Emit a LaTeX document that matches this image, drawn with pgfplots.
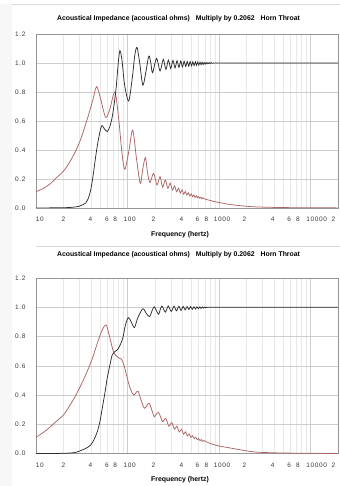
\documentclass[border=0pt]{standalone}
\usepackage{fontspec}
\setmainfont{Liberation Sans}
\newfontfamily\tickfont[LetterSpace=10]{Liberation Sans}
\usepackage{pgfplots}
\pgfplotsset{compat=1.18}

\definecolor{blk}{RGB}{45,45,45}
\definecolor{rd}{RGB}{172,100,100}
\definecolor{majg}{RGB}{205,205,205}
\definecolor{ming}{RGB}{232,232,232}
\definecolor{frm}{RGB}{150,150,150}

\begin{document}
\begin{tikzpicture}
\useasboundingbox (0,0) rectangle (340bp,486bp);
\fill[gray!6] (0,0) rectangle (12bp,482bp);
\draw[gray!30, line width=0.6bp] (12bp,482bp) -- (340bp,482bp);
\draw[gray!30, line width=0.6bp] (36bp,239.3bp) -- (340bp,239.3bp);

\node[font=\bfseries\fontsize{6.9}{7}\selectfont] at (178.5bp,467.7bp)
  {Acoustical Impedance (acoustical ohms)\hspace{4bp} Multiply by 0.2062\hspace{4bp} Horn Throat};
\node[font=\bfseries\fontsize{6.9}{7}\selectfont] at (180bp,251bp) {Frequency (hertz)};
\node[font=\bfseries\fontsize{6.9}{7}\selectfont] at (178.5bp,231bp)
  {Acoustical Impedance (acoustical ohms)\hspace{4bp} Multiply by 0.2062\hspace{4bp} Horn Throat};
\node[font=\bfseries\fontsize{6.9}{7}\selectfont] at (180bp,6bp) {Frequency (hertz)};

% ---------- top chart ----------
\begin{axis}[
  xmode=log,
  scale only axis, width=302bp, height=174bp,
  at={(36bp,278bp)}, anchor=south west,
  xmin=10, xmax=20000, ymin=0, ymax=1.2,
  xtick={10,100,1000,10000}, xticklabels={\empty,\empty,\empty,\empty},
  minor xtick={20,30,40,50,60,70,80,90,200,300,400,500,600,700,800,900,2000,3000,4000,5000,6000,7000,8000,9000},
  extra x ticks={10.97,20,39.3,59.5,73.4,105.9,191.8,389,581,728,1083,1900,3865,5866,7280,11700,17780},
  extra x tick labels={10,2,4,6,8,100,2,4,6,8,1000,2,4,6,8,10000,2},
  extra x tick style={xmajorgrids=false},
  ytick={0,0.2,0.4,0.6,0.8,1.0,1.2},
  yticklabels={0.0,0.2,0.4,0.6,0.8,1.0,1.2},
  xmajorgrids, xminorgrids, ymajorgrids,
  major grid style={draw=majg, line width=0.5bp},
  minor grid style={draw=ming, line width=0.5bp},
  axis line style={draw=frm, line width=0.6bp},
  major tick length=0pt, minor tick length=0pt,
  ticklabel style={font=\tickfont\fontsize{6.5}{7}\selectfont, text=black!78},
  xticklabel style={yshift=-5.7bp},
  yticklabel style={xshift=-7bp},
]
\addplot[rd, line width=0.75bp, smooth] coordinates {
(10,0.112) (12,0.135) (14.5,0.17) (16.5,0.205) (20,0.255) (23,0.31) (26,0.37)
(29.6,0.446) (33,0.53) (38,0.653) (42,0.75) (46,0.837) (51,0.75) (57.7,0.625)
(64,0.68) (72.8,0.80) (80,0.62) (87,0.38) (93.6,0.267) (104,0.40) (114,0.538)
(126,0.33) (138,0.17) (147,0.27) (157,0.347) (166,0.24) (176,0.175) (193,0.239)
(210,0.159) (227,0.216) (242,0.143) (259,0.193) (276,0.136) (293,0.171) (310,0.123)
(327,0.153) (344,0.112) (361,0.137) (378,0.103) (395,0.125) (412,0.095) (429,0.114)
(446,0.089) (463,0.105) (480,0.083) (497,0.097) (514,0.078) (531,0.090) (548,0.073)
(565,0.084) (582,0.070) (599,0.079) (616,0.067) (633,0.074) (650,0.064) (667,0.070)
(700,0.062) (800,0.052) (900,0.044) (1000,0.038) (1300,0.025) (1700,0.016)
(2300,0.009) (3000,0.006) (5000,0.003) (10000,0.0015) (20000,0.0008)
};
\addplot[blk, line width=0.75bp, smooth] coordinates {
(10,0.0) (20,0.002) (25,0.005) (29.6,0.012) (33,0.025) (35,0.035) (37.5,0.07)
(39.6,0.124) (42,0.22) (44.9,0.354) (48,0.47) (52.1,0.566) (56,0.545) (60.1,0.527)
(64,0.56) (68.2,0.63) (72,0.73) (75.4,0.837) (79,0.99) (82.6,1.085) (87,1.02)
(93,0.85) (103,0.738) (113,0.90) (120,1.05) (127,1.108) (136,1.0) (147,0.848)
(158,0.93) (171,1.048) (180,1.0) (188,0.933) (208,1.032) (227,0.945) (246,1.025)
(263,0.956) (280,1.02) (297,0.962) (314,1.018) (331,0.966) (348,1.016) (365,0.970)
(382,1.014) (399,0.973) (416,1.012) (433,0.976) (450,1.011) (467,0.978) (484,1.010)
(501,0.980) (518,1.009) (535,0.982) (552,1.008) (569,0.984) (586,1.007) (603,0.986)
(620,1.006) (637,0.988) (654,1.005) (671,0.990) (688,1.004) (705,0.992) (722,1.003)
(739,0.994) (756,1.003) (773,0.996) (790,1.002) (807,0.997) (824,1.002) (841,0.998)
(900,1.0) (1500,1.0) (5000,1.0) (20000,1.0)
};
\end{axis}

% ---------- bottom chart ----------
\begin{axis}[
  xmode=log,
  scale only axis, width=302bp, height=175.5bp,
  at={(36bp,32.4bp)}, anchor=south west,
  xmin=10, xmax=20000, ymin=0, ymax=1.2,
  xtick={10,100,1000,10000}, xticklabels={\empty,\empty,\empty,\empty},
  minor xtick={20,30,40,50,60,70,80,90,200,300,400,500,600,700,800,900,2000,3000,4000,5000,6000,7000,8000,9000},
  extra x ticks={10.97,20,39.3,59.5,73.4,105.9,191.8,389,581,728,1083,1900,3865,5866,7280,11700,17780},
  extra x tick labels={10,2,4,6,8,100,2,4,6,8,1000,2,4,6,8,10000,2},
  extra x tick style={xmajorgrids=false},
  ytick={0,0.2,0.4,0.6,0.8,1.0,1.2},
  yticklabels={0.0,0.2,0.4,0.6,0.8,1.0,1.2},
  xmajorgrids, xminorgrids, ymajorgrids,
  major grid style={draw=majg, line width=0.5bp},
  minor grid style={draw=ming, line width=0.5bp},
  axis line style={draw=frm, line width=0.6bp},
  major tick length=0pt, minor tick length=0pt,
  ticklabel style={font=\tickfont\fontsize{6.5}{7}\selectfont, text=black!78},
  xticklabel style={yshift=-5.7bp},
  yticklabel style={xshift=-7bp},
]
\addplot[rd, line width=0.75bp, smooth] coordinates {
(10,0.111) (13,0.16) (16.5,0.218) (20,0.265) (23,0.321) (27,0.395) (32.2,0.49)
(37,0.575) (41.3,0.65) (46,0.74) (50.9,0.82) (55,0.865) (58.6,0.879) (62,0.83)
(65,0.777) (70,0.70) (74,0.674) (80,0.655) (86,0.645) (92,0.60) (100,0.51)
(108,0.44) (117,0.40) (125,0.42) (131,0.425) (140,0.37) (153,0.31) (163,0.33)
(173,0.344) (184,0.30) (196,0.252) (207,0.27) (219,0.282) (230,0.25) (242,0.218)
(252,0.23) (263,0.24) (284,0.187) (305,0.212) (326,0.167) (347,0.187) (368,0.148)
(389,0.166) (410,0.133) (431,0.149) (452,0.121) (473,0.134) (494,0.110) (515,0.122)
(536,0.102) (557,0.112) (578,0.095) (599,0.103) (620,0.089) (641,0.096) (662,0.084)
(683,0.089) (750,0.077) (850,0.064) (1000,0.052) (1285,0.040) (1600,0.029)
(2300,0.013) (3000,0.008) (5000,0.004) (10000,0.002) (20000,0.001)
};
\addplot[blk, line width=0.75bp, smooth] coordinates {
(10,0.0) (20,0.002) (27,0.008) (32,0.025) (36,0.04) (39.6,0.059) (43,0.095)
(46.8,0.15) (50,0.22) (53,0.31) (56.5,0.41) (60,0.515) (64,0.60) (68,0.674)
(72,0.695) (77,0.708) (82,0.735) (88.7,0.788) (95,0.88) (102,0.93) (110,0.90)
(119,0.862) (130,0.93) (147,0.99) (160,0.96) (174,0.936) (185,0.975) (196,1.004)
(208,0.975) (219,0.952) (228,0.985) (238,1.009) (248,0.988) (259,0.967) (270,0.99)
(280,1.009) (301,0.972) (322,1.008) (343,0.976) (364,1.007) (385,0.979) (406,1.006)
(427,0.982) (448,1.005) (469,0.985) (490,1.005) (511,0.987) (532,1.004) (553,0.989)
(574,1.004) (595,0.991) (616,1.003) (637,0.993) (658,1.003) (679,0.995) (700,1.002)
(721,0.997) (742,1.001) (800,1.0) (1500,1.0) (5000,1.0) (20000,1.0)
};
\end{axis}
\end{tikzpicture}
\end{document}
